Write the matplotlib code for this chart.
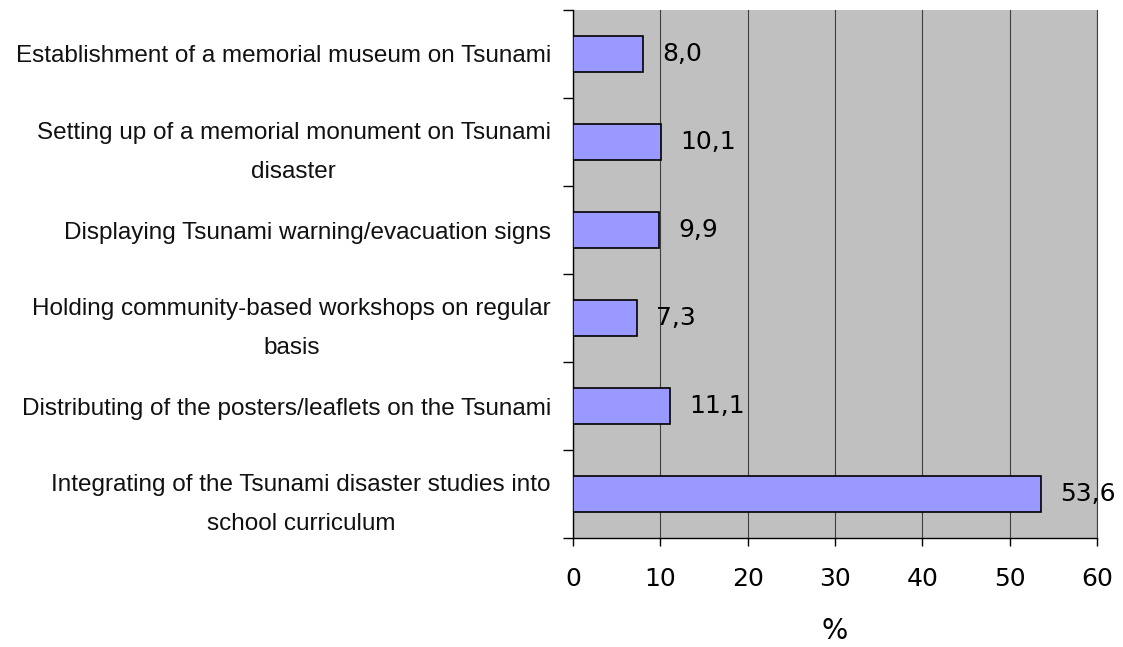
import matplotlib.pyplot as plt

categories = [
    "Establishment of a memorial museum on Tsunami",
    "Setting up of a memorial monument on Tsunami\ndisaster",
    "Displaying Tsunami warning/evacuation signs",
    "Holding community-based workshops on regular\nbasis",
    "Distributing of the posters/leaflets on the Tsunami",
    "Integrating of the Tsunami disaster studies into\nschool curriculum",
]
values = [8.0, 10.1, 9.9, 7.3, 11.1, 53.6]
xticks = [0, 10, 20, 30, 40, 50, 60]

fig = plt.figure(figsize=(11.23, 6.47), dpi=100)
ax = fig.add_axes([573 / 1123, 1 - 538 / 647, 524 / 1123, 528 / 647])
ax.set_facecolor('#c0c0c0')

n = len(categories)
pos = list(range(n))
ax.barh(pos, values, height=0.42, color='#9999ff', edgecolor='black', linewidth=1.2, zorder=3)
for p, v in zip(pos, values):
    ax.text(v + 2.2, p, f'{v:.1f}'.replace('.', ','), va='center', ha='left',
            fontsize=18, family='DejaVu Sans', zorder=4)

ax.set_xlim(0, 60)
ax.set_ylim(n - 0.5, -0.5)
ax.set_xticks(xticks)
ax.set_xticklabels([str(t) for t in xticks], fontsize=18, family='DejaVu Sans')
ax.tick_params(axis='x', length=6, width=1, pad=15, direction='out')
ax.xaxis.grid(True, color='#404040', linewidth=0.8, zorder=1)

# labels on category centres, ticks on boundaries
ax.set_yticks(pos)
ax.set_yticklabels(categories, fontsize=17.5, family='Liberation Sans', ha='right',
                   multialignment='center', linespacing=1.95, color='#111111')
ax.tick_params(axis='y', which='major', length=0, pad=16)
ax.set_yticks([p - 0.5 for p in pos] + [n - 0.5], minor=True)
ax.tick_params(axis='y', which='minor', length=7.2, width=1, direction='out')

ax.spines['top'].set_visible(False)
ax.spines['right'].set_color('#404040')
ax.spines['right'].set_linewidth(0.8)
ax.spines['left'].set_linewidth(1)
ax.spines['bottom'].set_linewidth(1)

ax.set_xlabel('%', fontsize=20, family='DejaVu Sans')
ax.xaxis.set_label_coords(0.5, -(617 - 538) / 528)

fig.savefig('out.png', dpi=100)
